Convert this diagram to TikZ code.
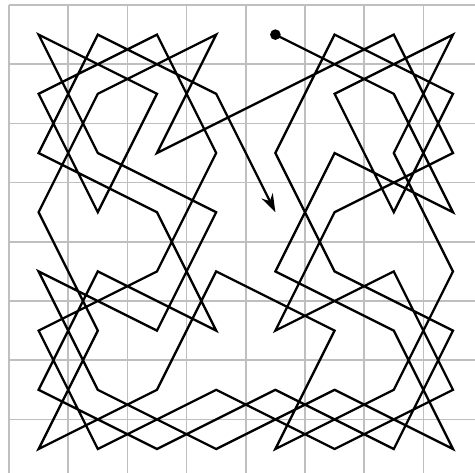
\documentclass[tikz,border=0pt]{standalone}
\usetikzlibrary{arrows.meta}

\begin{document}
\begin{tikzpicture}[
  x=1cm, y=-1cm,
  gridline/.style={draw=black!25, line width=0.8pt},
  tour/.style={draw=black, line width=1.1pt, line join=miter,
    -{Stealth[length=3.1mm, width=2.1mm]}},
  startdot/.style={circle, fill=black, inner sep=0pt, minimum size=1.8mm}
]
\useasboundingbox (-0.152,-0.085) rectangle (7.872,7.889);

% board
\draw[gridline] (0,8) grid (8,0);

% centres of the squares, s<column><row>
\foreach \c in {0,...,7}{
  \foreach \r in {0,...,7}{
    \coordinate (s\c\r) at (\c+0.5,\r+0.5);
  }
}

% the knight's tour
\draw[tour] (s40) -- (s61) -- (s73) -- (s52) -- (s44) -- (s65) -- (s77) -- (s56)
  -- (s37) -- (s16) -- (s04) -- (s25) -- (s33) -- (s12) -- (s00) -- (s21)
  -- (s13) -- (s01) -- (s20) -- (s32) -- (s24) -- (s05) -- (s17) -- (s36)
  -- (s57) -- (s76) -- (s64) -- (s45) -- (s53) -- (s72) -- (s60) -- (s41)
  -- (s22) -- (s30) -- (s11) -- (s03) -- (s15) -- (s07) -- (s26) -- (s34)
  -- (s55) -- (s47) -- (s66) -- (s74) -- (s62) -- (s70) -- (s51) -- (s63)
  -- (s71) -- (s50) -- (s42) -- (s54) -- (s75) -- (s67) -- (s46) -- (s27)
  -- (s06) -- (s14) -- (s35) -- (s23) -- (s02) -- (s10) -- (s31) -- (s43);

\node[startdot] (start) at (s40) {};

\end{tikzpicture}
\end{document}
